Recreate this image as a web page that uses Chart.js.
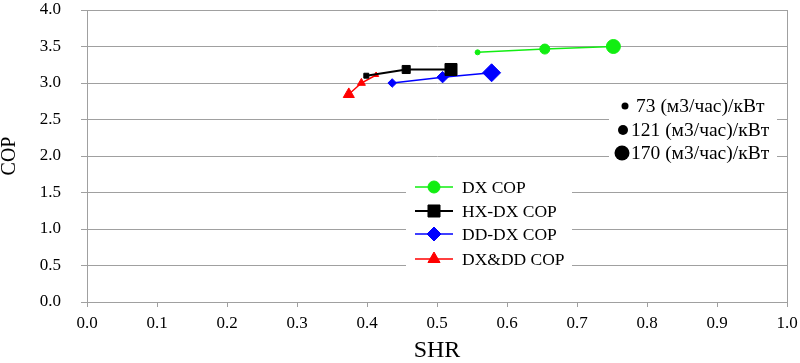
<!DOCTYPE html>
<html><head><meta charset="utf-8">
<script src="https://cdn.jsdelivr.net/npm/chart.js@4.4.1/dist/chart.umd.min.js"></script>
<style>html,body{margin:0;padding:0;background:#fff;}#wrap{width:800px;height:363px;position:relative;}</style>
</head><body><div id="wrap"><canvas id="c" width="800" height="363"></canvas></div>
<script>
// ---- data ----
const seriesNames = ['DX COP', 'HX-DX COP', 'DD-DX COP', 'DX&DD COP'];
const dxSHR   = [0.558, 0.654, 0.752];
const dxCOP   = [3.42, 3.465, 3.50];
const hxSHR   = [0.399, 0.456, 0.520];
const hxCOP   = [3.10, 3.185, 3.185];
const ddSHR   = [0.436, 0.508, 0.578];
const ddCOP   = [3.00, 3.08, 3.14];
const dxddSHR = [0.413, 0.392, 0.374];
const dxddCOP = [3.11, 3.00, 2.845];
const flowLabels = ['73 (м3/час)/кВт', '121 (м3/час)/кВт', '170 (м3/час)/кВт'];
const xTitle = 'SHR';
const yTitle = 'COP';

// ---- styles ----
const GRAY = '#a0a0a0';
const FONT = 'Liberation Serif';
const colors = ['#11ee11', '#000000', '#0000ff', '#ff0000'];
const styles = ['circle', 'rect', 'rectRot', 'triangle'];
const radii = [[2.5, 5, 7], [3.5, 5.7, 8.5], [4.3, 5.7, 9], [3, 4.6, 6.4]];
const lineW = [1.5, 2, 1.5, 1.5];
const xs = [dxSHR, hxSHR, ddSHR, dxddSHR];
const ys = [dxCOP, hxCOP, ddCOP, dxddCOP];

const datasets = seriesNames.map((name, k) => ({
  label: name,
  data: xs[k].map((x, i) => ({x: x, y: ys[k][i]})),
  showLine: true,
  borderColor: colors[k],
  backgroundColor: colors[k],
  borderWidth: lineW[k],
  pointStyle: styles[k],
  pointRadius: radii[k],
  pointBorderWidth: 1,
  pointBorderColor: colors[k],
  pointBackgroundColor: colors[k],
  clip: false
}));

function drawMarker(ctx, style, x, y, r) {
  Chart.helpers.drawPoint(ctx, {pointStyle: style, radius: r, borderWidth: 1}, x, y);
}

const legendPlugin = {
  id: 'customLegend',
  afterDraw(chart) {
    const ctx = chart.ctx;
    ctx.save();
    // series legend
    ctx.fillStyle = '#fff';
    ctx.fillRect(406, 175, 166, 96);
    const rowsY = [187, 211, 234, 259];
    const legR = [6, 8.5, 7, 7];
    seriesNames.forEach((name, k) => {
      const yy = rowsY[k];
      ctx.strokeStyle = colors[k];
      ctx.lineWidth = lineW[k];
      ctx.beginPath(); ctx.moveTo(415, yy); ctx.lineTo(453, yy); ctx.stroke();
      ctx.fillStyle = colors[k];
      ctx.strokeStyle = colors[k];
      ctx.lineWidth = 1;
      drawMarker(ctx, styles[k], 434, yy, legR[k]);
      ctx.fillStyle = '#000';
      ctx.font = '17.5px "' + FONT + '"';
      ctx.textBaseline = 'middle';
      ctx.textAlign = 'left';
      ctx.fillText(name, 462, yy + 1);
    });
    // size legend
    ctx.fillStyle = '#fff';
    ctx.fillRect(609, 95, 168, 70);
    const sy = [106, 130, 153];
    const sr = [3.5, 5, 7.5];
    const sx = [625, 623, 622];
    const tx = [636, 631, 631];
    flowLabels.forEach((t, i) => {
      ctx.fillStyle = '#000';
      ctx.beginPath(); ctx.arc(sx[i], sy[i], sr[i], 0, Math.PI * 2); ctx.fill();
      ctx.font = '19.5px "' + FONT + '"';
      ctx.textBaseline = 'middle';
      ctx.textAlign = 'left';
      ctx.fillText(t, tx[i], sy[i] + 1);
    });
    ctx.restore();
  }
};

new Chart(document.getElementById('c'), {
  type: 'scatter',
  data: {datasets: datasets},
  plugins: [legendPlugin],
  options: {
    responsive: false,
    animation: false,
    devicePixelRatio: 1,
    layout: {padding: {top: 6, right: 13, left: 0, bottom: 0}},
    plugins: {legend: {display: false}, tooltip: {enabled: false}},
    scales: {
      x: {
        type: 'linear', min: 0, max: 1,
        ticks: {stepSize: 0.1, autoSkip: false, maxRotation: 0, padding: 6, color: '#000',
          font: {family: FONT, size: 17}, callback: v => Number(v).toFixed(1)},
        grid: {color: c => (c.tick && Math.abs(c.tick.value - 1) < 1e-9) ? GRAY : 'rgba(0,0,0,0)',
          tickColor: GRAY, tickLength: 5, lineWidth: 1},
        border: {color: GRAY, width: 1},
        title: {display: true, text: xTitle, color: '#000', padding: 0,
          font: {family: FONT, size: 24, lineHeight: 1}},
        afterFit: s => { s.height = 61; s.paddingLeft = 0; s.paddingRight = 0; }
      },
      y: {
        min: 0, max: 4,
        ticks: {stepSize: 0.5, padding: 20, color: '#000',
          font: {family: FONT, size: 17}, callback: v => Number(v).toFixed(1)},
        grid: {color: GRAY, tickColor: GRAY, tickLength: 6, lineWidth: 1},
        border: {color: GRAY, width: 1},
        title: {display: true, text: yTitle, color: '#000', padding: 0,
          font: {family: FONT, size: 20, lineHeight: 1}},
        afterFit: s => { s.width = 87; s.paddingTop = 0; s.paddingBottom = 0; }
      }
    }
  }
});
</script>
</body></html>
